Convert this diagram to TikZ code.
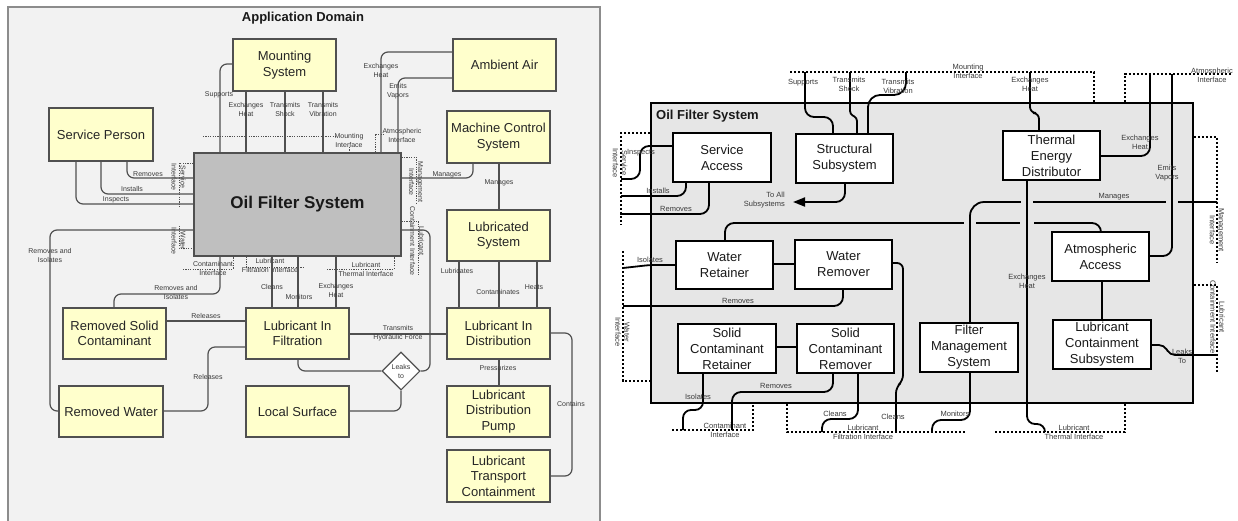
\documentclass[tikz,border=0pt]{standalone}
\usepackage{fontspec}
\setmainfont{Liberation Sans}
\usetikzlibrary{arrows.meta,shapes.geometric}
\definecolor{lfill}{HTML}{F2F2F2}
\definecolor{lborder}{HTML}{8C8C8C}
\definecolor{lyellow}{HTML}{FFFFCC}
\definecolor{lline}{HTML}{505050}
\definecolor{ofsgray}{HTML}{BFBFBF}
\definecolor{labc}{HTML}{3A3A3A}
\definecolor{rfill}{HTML}{E6E6E6}
\begin{document}
\begin{tikzpicture}[x=1pt,y=-1pt,
  lbox/.style={draw=lline, fill=lyellow, line width=1.1pt, inner sep=0pt, align=center, text=black!85, font=\fontsize{13}{15.5}\selectfont},
  rbox/.style={draw=black, fill=white, line width=1.4pt, inner sep=0pt, align=center, text=black!90, font=\fontsize{13}{16}\selectfont, minimum width=97pt, minimum height=49pt},
  lconn/.style={draw=lline, line width=1.2pt, rounded corners=7pt},
  rconn/.style={draw=black, line width=1.8pt, rounded corners=9pt},
  llab/.style={font=\fontsize{7}{9}\selectfont, text=labc, align=center, inner sep=0pt},
  rlab/.style={font=\fontsize{7.5}{9}\selectfont, text=labc, align=center, inner sep=0pt},
  ldot/.style={draw=lline, line width=0.9pt, dash pattern=on 1.2pt off 1.2pt},
  rdot/.style={draw=black, line width=1.8pt, dash pattern=on 2.2pt off 1.8pt},
  gapfill/.style={fill=rfill}
]
\useasboundingbox (0,0) rectangle (1238,520);
\fill[white] (0,0) rectangle (1238,520);

% ================= LEFT PANEL =================
\draw[draw=lborder, fill=lfill, line width=1.2pt] (8,7) rectangle (600,526);
\node[font=\bfseries\fontsize{13}{15}\selectfont, text=black!90, inner sep=0pt] (title) at (303,18) {Application Domain};

\node[lbox, minimum width=103pt, minimum height=52pt] (ms) at (284.5,65) {Mounting\\System};
\node[lbox, minimum width=103pt, minimum height=52pt] (aa) at (504.5,65) {Ambient Air};
\node[lbox, minimum width=104pt, minimum height=53pt] (sp) at (101,134.5) {Service Person};
\node[lbox, minimum width=103pt, minimum height=52pt] (mcs) at (498.5,137) {Machine Control\\System};
\node[draw=lline, fill=ofsgray, line width=1.1pt, inner sep=0pt, minimum width=207pt, minimum height=103pt, font=\bfseries\fontsize{17}{20}\selectfont, text=black!90] (ofs) at (297.5,204.5) {Oil Filter System};
\node[lbox, minimum width=103pt, minimum height=51pt] (ls) at (498.5,235.5) {Lubricated\\System};
\node[lbox, minimum width=103pt, minimum height=51pt] (rsc) at (114.5,333.5) {Removed Solid\\Contaminant};
\node[lbox, minimum width=103pt, minimum height=51pt] (lif) at (297.5,333.5) {Lubricant In\\Filtration};
\node[lbox, minimum width=103pt, minimum height=51pt] (lid) at (498.5,333.5) {Lubricant In\\Distribution};
\node[lbox, minimum width=104pt, minimum height=51pt] (rw) at (111,411.5) {Removed Water};
\node[lbox, minimum width=103pt, minimum height=51pt] (lsf) at (297.5,411.5) {Local Surface};
\node[lbox, minimum width=103pt, minimum height=51pt] (ldp) at (498.5,411.5) {Lubricant\\Distribution\\Pump};
\node[lbox, minimum width=103pt, minimum height=52pt] (ltc) at (498.5,476) {Lubricant\\Transport\\Containment};
\node[diamond, aspect=1, draw=lline, fill=white, line width=1.1pt, inner sep=0pt, minimum width=38pt, minimum height=38pt, align=center, text=labc, font=\fontsize{7}{9}\selectfont] (leak) at (401,371) {Leaks\\to};

% interfaces (left)
\draw[ldot] (203,136) -- (336,136);
\draw[ldot] (349,147) -- (349,0 |- ofs.north);
\node[llab] (lmi) at (349,140) {Mounting\\Interface};
\draw[ldot] (375,0 |- ofs.north) -- (375,134) -- (384,134);
\node[llab] (lai) at (402,135) {Atmospheric\\Interface};
\draw[ldot] (ofs.west |- 0,163) -- (179,163) -- (179,208);
\node[llab, rotate=-90] (lsi) at (178.5,177) {Service\\Interface};
\draw[ldot] (179,226) -- (179,248) -- (ofs.west |- 0,248);
\node[llab, rotate=-90] (lwi) at (178.5,241) {Water\\Interface};
\draw[ldot] (183,269) -- (233,269) -- (233,0 |- ofs.south);
\node[llab] (lci) at (213,268.5) {Contaminant\\Interface};
\draw[ldot] (246,0 |- ofs.south) -- (246,267) -- (304,267);
\node[llab] (lfi) at (270,265.5) {Lubricant\\Filtration Interface};
\draw[ldot] (327,269) -- (394,269) -- (394,0 |- ofs.south);
\node[llab] (lti) at (366,269.5) {Lubricant\\Thermal Interface};
\draw[ldot] (ofs.east |- 0,157) -- (416,157) -- (416,203);
\node[llab, rotate=-90] (lmgi) at (416,182) {Management\\Interface};
\draw[ldot] (ofs.east |- 0,221) -- (418,221) -- (418,275);
\node[llab, rotate=-90] (lcoi) at (417,241) {Lubricant\\Containment Interface};

% connectors (left)
\draw[lconn] (ms.west |- 0,64) -- (220,64) -- (220,0 |- ofs.north);
\node[llab] at (219,95) {Supports};
\draw[lconn] (246,0 |- ms.south) -- (246,0 |- ofs.north);
\node[llab] at (246,109) {Exchanges\\Heat};
\draw[lconn] (285,0 |- ms.south) -- (285,0 |- ofs.north);
\node[llab] at (285,109) {Transmits\\Shock};
\draw[lconn] (323,0 |- ms.south) -- (323,0 |- ofs.north);
\node[llab] at (323,109) {Transmits\\Vibration};
\draw[lconn] (aa.west |- 0,52) -- (381,52) -- (381,0 |- ofs.north);
\node[llab] at (381,70) {Exchanges\\Heat};
\draw[lconn] (aa.west |- 0,78) -- (398,78) -- (398,0 |- ofs.north);
\node[llab] at (398,91) {Emits\\Vapors};

\draw[lconn] (127,0 |- sp.south) -- (127,178) -- (ofs.west |- 0,178);
\node[llab] at (148,174) {Removes};
\draw[lconn] (101,0 |- sp.south) -- (101,194) -- (ofs.west |- 0,194);
\node[llab] at (132,189) {Installs};
\draw[lconn] (76,0 |- sp.south) -- (76,204) -- (ofs.west |- 0,204);
\node[llab] at (116,200) {Inspects};

\draw[lconn] (ofs.west |- 0,230) -- (50,230) -- (50,411) -- (rw.west |- 0,411);
\node[llab] at (50,255) {Removes and\\Isolates};
\draw[lconn] (220,0 |- ofs.south) -- (220,294) -- (114,294) -- (114,0 |- rsc.north);
\node[llab] at (176,292.5) {Removes and\\Isolates};
\draw[lconn] (272,0 |- ofs.south) -- (272,0 |- lif.north);
\node[llab] at (272,287) {Cleans};
\draw[lconn] (298,0 |- ofs.south) -- (298,0 |- lif.north);
\node[llab] at (299,297) {Monitors};
\draw[lconn] (336,0 |- ofs.south) -- (336,0 |- lif.north);
\node[llab] at (336,290) {Exchanges\\Heat};

\draw[lconn] (473,0 |- mcs.south) -- (473,178) -- (ofs.east |- 0,178);
\node[llab] at (447,175) {Manages};
\draw[lconn] (499,0 |- mcs.south) -- (499,0 |- ls.north);
\node[llab] at (499,183) {Manages};

\draw[lconn] (ofs.east |- 0,230) -- (430,230) -- (430,371) -- (leak.east);
\draw[lconn] (298,0 |- lif.south) -- (298,371) -- (leak.west);
\draw[lconn] (leak.south) -- (401,411) -- (lsf.east |- 0,411);

\draw[lconn] (rsc.east |- 0,321) -- (lif.west |- 0,321);
\node[llab] at (206,316) {Releases};
\draw[lconn] (lif.west |- 0,347) -- (208,347) -- (208,411) -- (rw.east |- 0,411);
\node[llab] at (208,377) {Releases};
\draw[lconn] (lif.east |- 0,334) -- (lid.west |- 0,334);
\node[llab] at (398,333.5) {Transmits\\Hydraulic Force};

\draw[lconn] (459,0 |- ls.south) -- (459,0 |- lid.north);
\node[llab] at (457,271) {Lubricates};
\draw[lconn] (499,0 |- ls.south) -- (499,0 |- lid.north);
\node[llab] at (498,292) {Contaminates};
\draw[lconn] (537,0 |- ls.south) -- (537,0 |- lid.north);
\node[llab] at (534,287) {Heats};
\draw[lconn] (499,0 |- lid.south) -- (499,0 |- ldp.north);
\node[llab] at (498,368) {Pressurizes};
\draw[lconn] (lid.east |- 0,333) -- (572,333) -- (572,476) -- (ltc.east |- 0,476);
\node[llab] at (571,404) {Contains};

% ================= RIGHT PANEL =================
\node[draw=black, fill=rfill, line width=1.8pt, inner sep=0pt, minimum width=542pt, minimum height=300pt] (ofsr) at (922,253) {};
\node[anchor=west, font=\bfseries\fontsize{13}{15}\selectfont, text=black!90, inner sep=0pt] (ofsrt) at (656,116) {Oil Filter System};

\node[rbox, minimum width=98pt] (sa) at (722,157.5) {Service\\Access};
\node[rbox] (ss) at (844.5,158.5) {Structural\\Subsystem};
\node[rbox] (ted) at (1051.5,155.5) {Thermal\\Energy\\Distributor};
\node[rbox, minimum height=48pt] (wr) at (724.5,265) {Water\\Retainer};
\node[rbox] (wrm) at (843.5,264.5) {Water\\Remover};
\node[rbox, minimum width=98pt] (scr) at (727,348.5) {Solid\\Contaminant\\Retainer};
\node[rbox] (scm) at (845.5,348.5) {Solid\\Contaminant\\Remover};
\node[rbox, minimum width=98pt] (fms) at (969,347.5) {Filter\\Management\\System};
\node[rbox] (ata) at (1100.5,256.5) {Atmospheric\\Access};
\node[rbox, minimum width=98pt] (lcs) at (1102,344.5) {Lubricant\\Containment\\Subsystem};

% interfaces (right)
\draw[rdot] (790,72) -- (1094,72) -- (1094,0 |- ofsr.north);
\node[rlab] (rmi) at (968,71.5) {Mounting\\Interface};
\draw[rdot] (1125,0 |- ofsr.north) -- (1125,74) -- (1232,74);
\node[rlab] (rai) at (1212,75) {Atmospheric\\Interface};
\draw[rdot] (ofsr.west |- 0,133) -- (621,133) -- (621,225);
\node[rlab, rotate=-90] (rsi) at (620,163) {Service\\Interface};
\draw[rdot] (623,251) -- (623,381) -- (ofsr.west |- 0,381);
\node[rlab, rotate=-90] (rwi) at (622.5,332) {Water\\Interface};
\draw[rdot] (672,430) -- (753,430) -- (753,0 |- ofsr.south);
\node[rlab] (rci) at (725,430) {Contaminant\\Interface};
\draw[rdot] (787,0 |- ofsr.south) -- (787,432) -- (965,432);
\node[rlab] (rfi) at (863,432) {Lubricant\\Filtration Interface};
\draw[rdot] (995,432) -- (1125,432) -- (1125,0 |- ofsr.south);
\node[rlab] (rti) at (1074,432) {Lubricant\\Thermal Interface};
\draw[rdot] (ofsr.east |- 0,137) -- (1217,137) -- (1217,262);
\node[rlab, rotate=-90] (rmgi) at (1217,230) {Management\\Interface};
\draw[rdot] (ofsr.east |- 0,285) -- (1217,285) -- (1217,372);
\node[rlab, rotate=-90] (rcoi) at (1217.5,317) {Lubricant\\Containment Interface};

% connectors (right)
\draw[rconn] (805,72) -- (805,117) -- (833,117) -- (833,0 |- ss.north);
\node[rlab] at (803,83) {Supports};
\draw[rconn, rounded corners=3pt] (850,72) -- (850,114) -- (857,118) -- (857,0 |- ss.north);
\node[rlab] at (849,84) {Transmits\\Shock};
\draw[rconn, rounded corners=12pt] (906,72) -- (906,95) -- (868,95) -- (868,0 |- ss.north);
\node[rlab] at (898,86) {Transmits\\Vibration};
\draw[rconn, -{Triangle[length=12pt,width=9pt]}] (845,0 |- ss.south) -- (845,202) -- (793,202);
\node[rlab, anchor=east, align=right] at (785,200.5) {To All\\Subsystems};

\draw[rconn] (sa.west |- 0,146) -- (640,146) -- (640,179) -- (621,179);
\node[rlab] at (641,153) {Inspects};
\draw[rconn] (686,0 |- sa.south) -- (686,196) -- (621,196);
\node[rlab] at (658,191) {Installs};
\draw[rconn] (709,0 |- sa.south) -- (709,214) -- (620,214);
\node[rlab] at (676,209) {Removes};

\draw[rconn, rounded corners=6pt] (1030,72) -- (1030,113) -- (1039,113) -- (1039,0 |- ted.north);
\node[rlab] at (1030,84.5) {Exchanges\\Heat};
\draw[rconn] (ted.east |- 0,156) -- (1150,156) -- (1150,74);
\node[rlab] at (1140,142) {Exchanges\\Heat};

% crossing lines with gaps
\draw[rconn] (725,0 |- wr.north) -- (725,223) -- (1101,223) -- (1101,0 |- ata.north);
\fill[gapfill] (964,220) rectangle (976,226);
\fill[gapfill] (1020,220) rectangle (1034,226);
\draw[rconn, rounded corners=14pt] (1217,202) -- (970,202) -- (970,0 |- fms.north);
\node[rlab] at (1114,197) {Manages};
\fill[gapfill] (1021,199) rectangle (1033,205);
\fill[gapfill] (1166,199) rectangle (1178,205);
\draw[rconn, rounded corners=8pt] (1027,0 |- ted.south) -- (1027,424) -- (1045,424) -- (1045,432);
\node[rlab] at (1027,281.5) {Exchanges\\Heat};
\draw[rconn] (1172,74) -- (1172,256) -- (ata.east |- 0,256);
\node[rlab] at (1167,173) {Emits\\Vapors};

\draw[rconn] (1102,0 |- ata.south) -- (1102,0 |- lcs.north);
\draw[rconn, rounded corners=5pt] (lcs.east |- 0,345) -- (1164,345) -- (1170,355) -- (1217,355);
\node[rlab] at (1182,356) {Leaks\\To};

\draw[rconn] (wr.east |- 0,264) -- (wrm.west |- 0,264);
\draw[rconn, rounded corners=5pt] (wr.west |- 0,265) -- (650,265) -- (623,268);
\node[rlab] at (650,260) {Isolates};
\draw[rconn] (843,0 |- wrm.south) -- (843,306) -- (623,306);
\node[rlab] at (738,301) {Removes};
\draw[rconn, rounded corners=6pt] (wrm.east |- 0,263) -- (903,263) -- (903,381) -- (896,387) -- (896,432);
\node[rlab] at (893,417) {Cleans};

\draw[rconn] (scr.east |- 0,347) -- (scm.west |- 0,347);
\draw[rconn, rounded corners=8pt] (703,0 |- scr.south) -- (703,410) -- (683,410) -- (683,430);
\node[rlab] at (698,397) {Isolates};
\draw[rconn] (833,0 |- scm.south) -- (833,392) -- (732,392) -- (732,430);
\node[rlab] at (776,386) {Removes};
\draw[rconn] (858,0 |- scm.south) -- (858,419) -- (822,419) -- (822,432);
\node[rlab] at (835,414) {Cleans};
\draw[rconn] (970,0 |- fms.south) -- (970,420) -- (932,420) -- (932,432);
\node[rlab] at (955,414) {Monitors};
\end{tikzpicture}
\end{document}
